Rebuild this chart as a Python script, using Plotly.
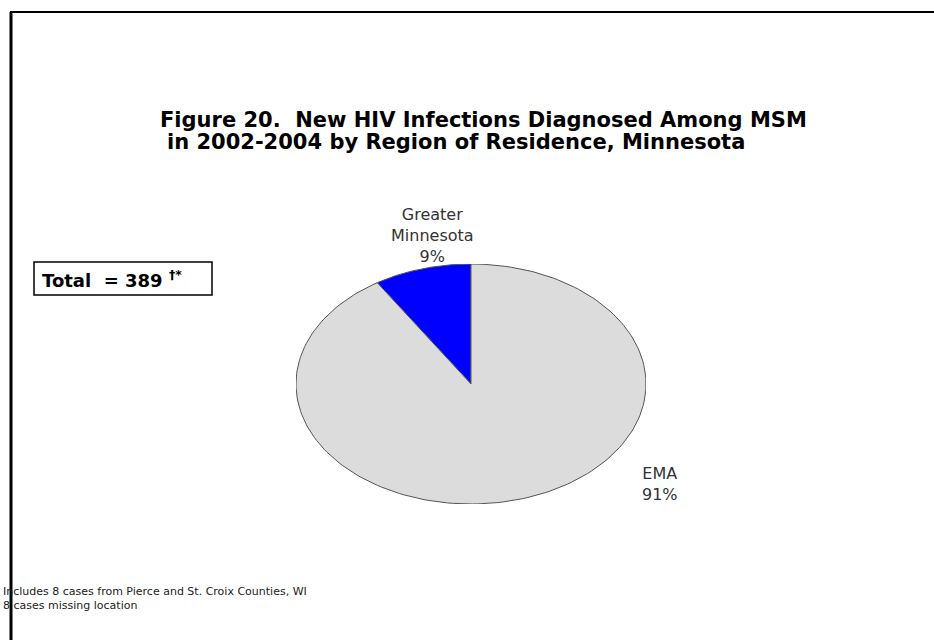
import numpy as np
import plotly.graph_objects as go

# data
regions = ["Greater Minnesota", "EMA"]
percents = [9, 91]
label_text = ["Greater<br>Minnesota<br>9%", "EMA<br>91%"]
slice_colors = ["#0000FF", "#DCDCDC"]
total_cases = 389
title_lines = ["Figure 20.  New HIV Infections Diagnosed Among MSM",
               "in 2002-2004 by Region of Residence, Minnesota"]
footnote_lines = ["Includes 8 cases from Pierce and St. Croix Counties, WI",
                  "8 cases missing location"]

W, H = 934, 640

fig = go.Figure()

# wedges: start at 12 o'clock, first slice goes counter-clockwise
start = 90.0
for name, pct, col in zip(regions, percents, slice_colors):
    sweep = pct / 100 * 360
    t = np.radians(np.linspace(start, start + sweep, 200))
    xs = np.concatenate([[0], np.cos(t), [0]])
    ys = np.concatenate([[0], np.sin(t), [0]])
    fig.add_trace(go.Scatter(x=xs, y=ys, mode="lines", fill="toself",
                             fillcolor=col, line=dict(color="#555555", width=1),
                             name=name, hoverinfo="name"))
    start += sweep

# pie bounding box in pixels (the original is stretched into an ellipse)
px0, px1, py0, py1 = 296, 646, 264, 504
fig.update_layout(
    width=W, height=H,
    margin=dict(l=0, r=0, t=0, b=0),
    paper_bgcolor="white", plot_bgcolor="white",
    showlegend=False,
    xaxis=dict(domain=[px0 / W, px1 / W], range=[-1, 1], visible=False, fixedrange=True),
    yaxis=dict(domain=[1 - py1 / H, 1 - py0 / H], range=[-1, 1], visible=False, fixedrange=True),
    font=dict(family="DejaVu Sans", color="black"),
)

def note(text, cx, cy, size, color="black", xanchor="center", align="center"):
    return dict(x=cx / W, y=1 - cy / H, xref="paper", yref="paper", text=text,
                showarrow=False, xanchor=xanchor, yanchor="middle", align=align,
                font=dict(size=size, color=color))

ann = []
# title, two lines with their own centres as in the original
for txt, cx, cy in zip(title_lines, [483, 456], [120, 142]):
    ann.append(note("<b>" + txt + "</b>", cx, cy, 21))

# slice labels
for txt, cx, cy in zip(label_text, [432, 660], [235, 484]):
    ann.append(note(txt, cx, cy, 16, color="#333333"))

# total box
ann.append(note(f"<b>Total  = {total_cases} <sup>†*</sup></b>", 40, 279, 18, xanchor="left"))

# footnote
for txt, cy in zip(footnote_lines, [591, 605]):
    ann.append(note(txt, 1, cy, 11, color="#222222", xanchor="left", align="left"))
fig.update_layout(annotations=ann)

def rect(x0, y0, x1, y1, **kw):
    return dict(type="rect", xref="paper", yref="paper",
                x0=x0 / W, x1=x1 / W, y0=1 - y1 / H, y1=1 - y0 / H, **kw)

fig.update_layout(shapes=[
    rect(34, 262, 212, 295, line=dict(color="black", width=1.5), fillcolor="rgba(0,0,0,0)"),
    dict(type="line", xref="paper", yref="paper", x0=10 / W, x1=1, y0=1 - 12 / H, y1=1 - 12 / H,
         line=dict(color="black", width=2)),
    dict(type="line", xref="paper", yref="paper", x0=11 / W, x1=11 / W, y0=0, y1=1 - 12 / H,
         line=dict(color="black", width=3)),
])

fig.write_html("out.html", config={"displayModeBar": False},
               post_script="document.body.style.margin='0';")
